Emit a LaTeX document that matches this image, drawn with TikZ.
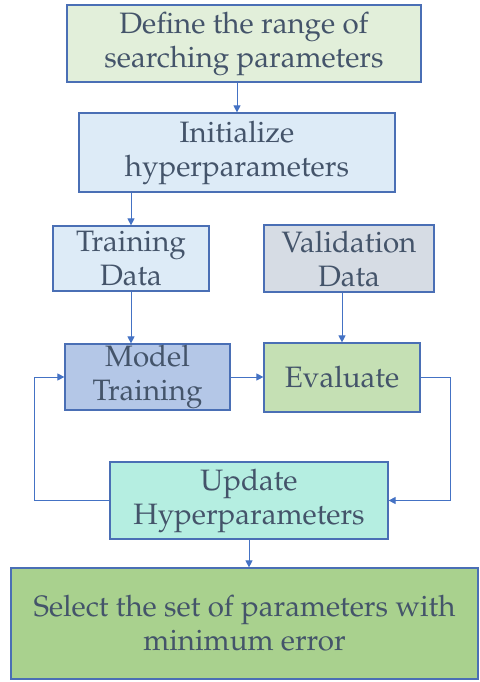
\documentclass[tikz,border=0pt]{standalone}
\usepackage[T1]{fontenc}
\usepackage{mathpazo}
\usetikzlibrary{arrows.meta,calc}

\definecolor{edge}{HTML}{4A6FB5}
\definecolor{link}{HTML}{4472C4}
\definecolor{ink}{HTML}{44546A}
\definecolor{fDefine}{HTML}{E2EFDA}
\definecolor{fInit}{HTML}{DDEBF7}
\definecolor{fValid}{HTML}{D6DCE4}
\definecolor{fModel}{HTML}{B4C7E7}
\definecolor{fEval}{HTML}{C5E0B4}
\definecolor{fUpdate}{HTML}{B5EEE1}
\definecolor{fSelect}{HTML}{A9D18E}

\tikzset{
  box/.style={draw=edge, line width=1.2pt, rectangle, inner sep=0pt, align=center,
    text=ink, font=\fontsize{29.5}{34}\selectfont},
  flow/.style={draw=link, line width=1pt, -{Triangle[length=7pt,width=7pt]}},
}

\begin{document}
\begin{tikzpicture}[x=1pt, y={(0pt,-1pt)}]
  \useasboundingbox (0,0) rectangle (479,682);

  \node[box, fill=fDefine, minimum width=354pt, minimum height=77pt] (define) at (244,43.5)
    {Define the range of\\searching parameters};
  \node[box, fill=fInit, minimum width=316pt, minimum height=79pt] (init) at (237,152.5)
    {Initialize\\hyperparameters};
  \node[box, fill=fInit, minimum width=156pt, minimum height=65pt] (train) at (131,258.5)
    {Training\\Data};
  \node[box, fill=fValid, minimum width=170pt, minimum height=67pt] (valid) at (349,258.5)
    {Validation\\Data};
  \node[box, fill=fModel, minimum width=165pt, minimum height=66pt] (model) at (147.5,377)
    {Model\\Training};
  \node[box, fill=fEval, minimum width=156pt, minimum height=69pt] (eval) at (342,377.5)
    {Evaluate};
  \node[box, fill=fUpdate, minimum width=278pt, minimum height=77pt] (update) at (249,500.5)
    {Update\\Hyperparameters};
  \node[box, fill=fSelect, minimum width=467pt, minimum height=111pt] (select) at (244.5,623.5)
    {Select the set of parameters with\\minimum error};

  \draw[flow] (define.south -| init.north) -- (init.north);
  \draw[flow] (init.south -| train.north) -- (train.north);
  \draw[flow] (train.south) -- (train.south |- model.north);
  \draw[flow] (valid.south -| eval.north) -- (eval.north);
  \draw[flow] (model.east) -- (model.east -| eval.west);
  \draw[flow] (eval.east) -- ++(30,0) |- (update.east);
  \draw[flow] (update.west) -- ++(-75,0) |- (model.west);
  \draw[flow] (update.south) -- (update.south |- select.north);
\end{tikzpicture}
\end{document}
